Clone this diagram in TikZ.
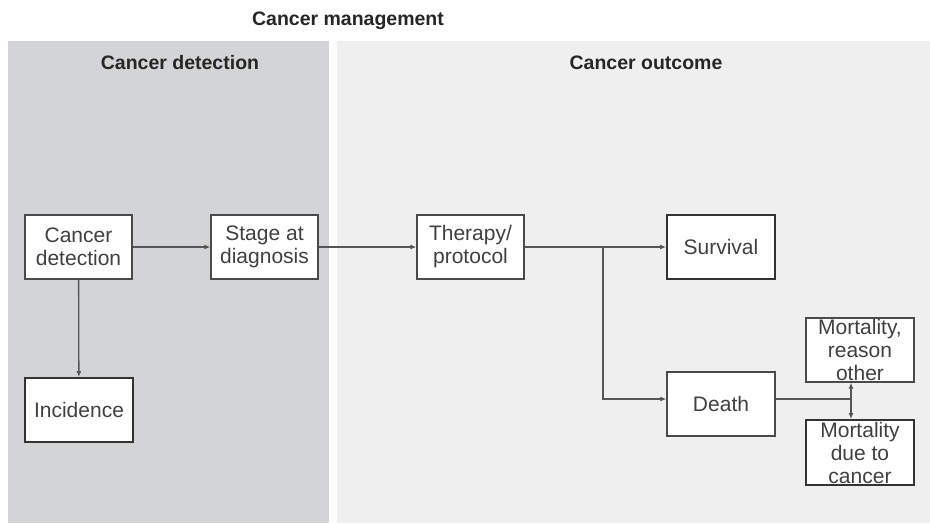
\documentclass[tikz,border=0pt]{standalone}
\usepackage{fontspec}
\setmainfont{Liberation Sans}
\usetikzlibrary{arrows.meta,calc}
\definecolor{panelL}{HTML}{D3D4D6}
\definecolor{panelR}{HTML}{EFEFEF}
\definecolor{txt}{HTML}{404040}
\definecolor{ln}{HTML}{555555}
\definecolor{bd}{HTML}{4A4A4A}
\tikzset{
  box/.style={draw=bd, line width=1.3pt, fill=white, minimum width=107pt, minimum height=64pt,
    inner sep=0pt, align=center, text=txt, font=\fontsize{21}{23}\selectfont},
  heavybox/.style={box, line width=1.9pt, draw=black!80},
  ttl/.style={text=black!85, font=\bfseries\fontsize{19.5}{22}\selectfont},
  conn/.style={draw=ln, line width=1.3pt},
  arr/.style={conn, -{Latex[length=6pt,width=5pt]}},
}
\begin{document}
\begin{tikzpicture}[x=1pt,y=-1pt]
\useasboundingbox (0,0) rectangle (930,523);
\fill[white] (0,0) rectangle (930,523);
\fill[panelL] (8,41) rectangle (329,523);
\fill[panelR] (337,41) rectangle (930,523);
\node[ttl] (tman) at (348,21) {Cancer management};
\node[ttl] (tdet) at (180,63) {Cancer detection};
\node[ttl] (tout) at (646,63) {Cancer outcome};

\node[box] (cd) at (78.5,247) {Cancer\\detection};
\node[box] (stage) at (264.5,247) {Stage at\\diagnosis};
\node[box] (ther) at (470.5,247) {Therapy/\\protocol};
\node[heavybox, minimum width=108pt] (surv) at (721,247) {Survival};
\node[heavybox, minimum width=108pt] (inc) at (79,410) {Incidence};
\node[box, minimum width=108pt] (death) at (721,404) {Death};
\node[box, minimum width=108pt] (moth) at (860,350) {Mortality,\\reason\\other};
\node[heavybox, minimum width=108pt, minimum height=65pt] (mcan) at (860,452.5) {Mortality\\due to\\cancer};

\coordinate (br) at (603,247);
\coordinate (jn) at (851,399);

\draw[arr] (cd) -- (stage);
\draw[arr] (stage) -- (ther);
\draw[arr] (ther) -- (surv);
\draw[arr] (br) |- ($(death.west)+(0,-5)$);
\draw[arr] (cd) -- (inc);
\draw[conn] ($(death.east)+(0,-5)$) -- (jn);
\draw[conn, {Latex[length=6pt,width=5pt]}-{Latex[length=6pt,width=5pt]}] (jn |- moth.south) -- (jn |- mcan.north);
\end{tikzpicture}
\end{document}
